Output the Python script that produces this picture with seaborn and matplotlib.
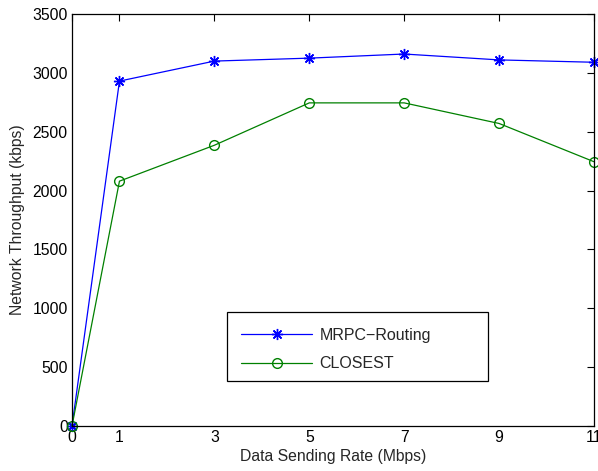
import matplotlib
matplotlib.use("Agg")
import matplotlib.pyplot as plt
import seaborn as sns
import pandas as pd
from matplotlib.patches import Rectangle

rates = [0, 1, 3, 5, 7, 9, 11]
mrpc = [0, 2930, 3100, 3125, 3160, 3110, 3090]
closest = [0, 2080, 2385, 2745, 2745, 2570, 2245]
series_names = ["MRPC\u2212Routing", "CLOSEST"]

sns.set_style("white")
plt.rcParams["font.family"] = ["Liberation Sans", "DejaVu Sans"]

W, H = 598, 471
fig = plt.figure(figsize=(W / 100, H / 100), dpi=100)
ax = fig.add_axes([72 / W, 45 / H, 522 / W, 412 / H])

star = (8, 2, 0)
sns.lineplot(x=rates, y=mrpc, color="#0000ff", marker=star, markersize=8,
             markeredgecolor="#0000ff", markerfacecolor="none", markeredgewidth=1.0,
             linewidth=0.9, ax=ax, clip_on=False, label=series_names[0])
sns.lineplot(x=rates, y=closest, color="#008000", marker="o", markersize=7,
             markeredgecolor="#008000", markerfacecolor="none", markeredgewidth=1.0,
             linewidth=0.9, ax=ax, clip_on=False, label=series_names[1])

ax.set_xlim(0, 11)
ax.set_ylim(0, 3500)
ax.set_xticks(rates)
ax.set_yticks(range(0, 3501, 500))
ax.set_xlabel("Data Sending Rate (Mbps)", fontsize=11.3, labelpad=3)
ax.set_ylabel("Network Throughput (kbps)", fontsize=11.3, labelpad=5)
ax.tick_params(direction="in", top=True, right=True, length=5, width=0.8,
               labelsize=11.3, pad=3, colors="black")
for s in ax.spines.values():
    s.set_visible(True)
    s.set_color("black")
    s.set_linewidth(0.9)

handles, labels = ax.get_legend_handles_labels()
leg = ax.legend(handles, labels, loc="upper left",
                bbox_to_anchor=(227 / W, 1 - 314 / H), bbox_transform=fig.transFigure,
                fontsize=11.5, frameon=False,
                handlelength=4.5, borderpad=0.85, labelspacing=0.85,
                handletextpad=0.45, borderaxespad=0)
leg.set_zorder(6)
rect = Rectangle((227 / W, 1 - 381 / H), (488 - 227) / W, (381 - 312) / H,
                 transform=fig.transFigure, fill=True, facecolor="white",
                 edgecolor="black", linewidth=0.9, zorder=5)
ax.add_patch(rect)
fig.savefig("out.png", dpi=100)
